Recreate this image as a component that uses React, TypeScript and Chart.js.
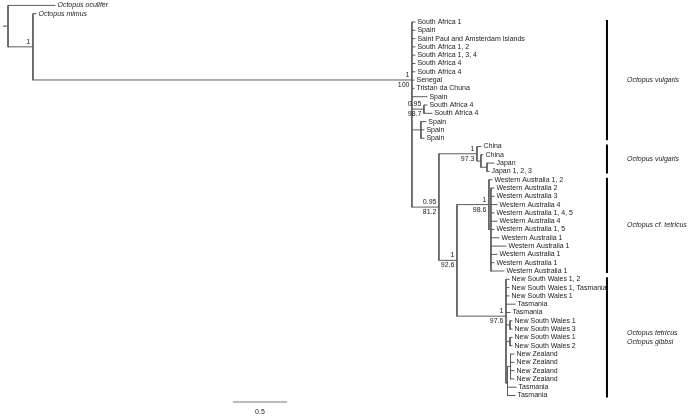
import React, { useEffect, useRef } from 'react';
import { Chart, registerables } from 'chart.js';

Chart.register(...registerables);

// ---------- data ----------
const tipLabels = [
  'Octopus oculifer', 'Octopus mimus',
  'South Africa 1', 'Spain', 'Saint Paul and Amsterdam Islands', 'South Africa 1, 2', 'South Africa 1, 3, 4',
  'South Africa 4', 'South Africa 4', 'Senegal', 'Tristan da Chuna', 'Spain', 'South Africa 4', 'South Africa 4',
  'Spain', 'Spain', 'Spain',
  'China', 'China', 'Japan', 'Japan 1, 2, 3',
  'Western Australia 1, 2', 'Western Australia 2', 'Western Australia 3', 'Western Australia 4',
  'Western Australia 1, 4, 5', 'Western Australia 4', 'Western Australia 1, 5', 'Western Australia 1',
  'Western Australia 1', 'Western Australia 1', 'Western Australia 1', 'Western Australia 1',
  'New South Wales 1, 2', 'New South Wales 1, Tasmania', 'New South Wales 1', 'Tasmania', 'Tasmania',
  'New South Wales 1', 'New South Wales 3', 'New South Wales 1', 'New South Wales 2',
  'New Zealand', 'New Zealand', 'New Zealand', 'New Zealand', 'Tasmania', 'Tasmania',
];
const tipItalic = [true, true];
const tipParents = [
  'root', 'A',
  'B', 'B', 'B', 'B', 'B', 'B', 'B', 'B', 'B', 'B', 'Q', 'Q', 'R', 'R', 'R',
  'E', 'F', 'G', 'G',
  'X', 'S', 'S', 'S', 'S', 'S', 'S', 'S', 'S', 'S', 'S', 'S',
  'I', 'I', 'I', 'I', 'I', 'P1', 'P1', 'P2', 'P2',
  'N', 'N', 'N', 'N', 'Z', 'Z',
];
const tipLengths = [
  0.435, 0.028,
  0.028, 0.028, 0.028, 0.028, 0.028, 0.028, 0.028, 0.019, 0.019, 0.139, 0.028, 0.074, 0.046, 0.028, 0.028,
  0.037, 0.019, 0.065, 0.019,
  0.028, 0.028, 0.028, 0.056, 0.028, 0.056, 0.028, 0.074, 0.139, 0.056, 0.028, 0.12,
  0.028, 0.028, 0.028, 0.083, 0.037, 0.019, 0.019, 0.019, 0.019,
  0.032, 0.032, 0.032, 0.032, 0.079, 0.069,
];

const nodeIds = ['root', 'A', 'B', 'Q', 'R', 'C', 'E', 'F', 'G', 'D', 'X', 'S', 'I', 'P1', 'P2', 'Z', 'N'];
const nodeParents = [null, 'root', 'A', 'B', 'B', 'B', 'C', 'E', 'F', 'C', 'D', 'X', 'D', 'I', 'I', 'I', 'Z'];
const nodeLengths = [0, 0.231, 3.509, 0.111, 0.083, 0.25, 0.352, 0.037, 0.056, 0.167, 0.296, 0.019, 0.454, 0.037, 0.037, 0.014, 0.028];
const nodePosterior = ['', '1', '1', '0.95', '', '0.95', '1', '', '', '1', '1', '', '1', '', '', '', ''];
const nodeBootstrap = ['', '', '100', '98.7', '', '81.2', '97.3', '', '', '92.6', '98.6', '', '97.6', '', '', '', ''];
const rootStubLength = 0.046;

const cladeNames = [['Octopus vulgaris'], ['Octopus vulgaris'], ['Octopus cf. tetricus'], ['Octopus tetricus', 'Octopus gibbsi']];
const cladeFirstTip = [2, 17, 21, 33];
const cladeLastTip = [16, 20, 32, 47];

const scaleBarLength = 0.5;
const scaleBarLabel = '0.5';

// ---------- layout constants ----------
const X_MIN = -0.0741;
const X_MAX = 6.3056;
const Y_MIN = -0.651;
const Y_MAX = 49.59;
const CLADE_BAR_X = 5.546;
const SCALE_BAR_X = 2.083;
const SCALE_BAR_Y = 47.78;
const TREE_COLOR = '#5c5c5c';
const TEXT_COLOR = '#1a1a1a';
const FONT = '"Liberation Sans", Arial, Helvetica, sans-serif';

function layoutTree() {
  const nodeX: Record<string, number> = {};
  nodeIds.forEach((id, i) => {
    const p = nodeParents[i];
    nodeX[id] = p === null ? 0 : nodeX[p] + nodeLengths[i];
  });
  const tipX = tipLabels.map((_, i) => nodeX[tipParents[i]] + tipLengths[i]);
  const tipY = tipLabels.map((_, i) => i);
  const nodeY: Record<string, number> = {};
  const childYs: Record<string, number[]> = {};
  nodeIds.forEach((id) => (childYs[id] = []));
  tipLabels.forEach((_, i) => childYs[tipParents[i]].push(tipY[i]));
  for (let i = nodeIds.length - 1; i >= 0; i--) {
    const id = nodeIds[i];
    const ys = childYs[id];
    nodeY[id] = ys.reduce((a, b) => a + b, 0) / ys.length;
    const p = nodeParents[i];
    if (p !== null) childYs[p].push(nodeY[id]);
  }
  return { nodeX, nodeY, tipX, tipY, childYs };
}

export default function App() {
  const ref = useRef<HTMLCanvasElement>(null);

  useEffect(() => {
    const canvas = ref.current;
    if (!canvas) return;
    const { nodeX, nodeY, tipX, tipY, childYs } = layoutTree();

    const gap = { x: NaN, y: NaN };
    const branchPts: { x: number; y: number }[] = [];
    branchPts.push({ x: -rootStubLength, y: nodeY.root }, { x: 0, y: nodeY.root }, gap);
    nodeIds.forEach((id) => {
      const ys = childYs[id];
      branchPts.push({ x: nodeX[id], y: Math.min(...ys) }, { x: nodeX[id], y: Math.max(...ys) }, gap);
    });
    nodeIds.forEach((id, i) => {
      const p = nodeParents[i];
      if (p === null) return;
      branchPts.push({ x: nodeX[p], y: nodeY[id] }, { x: nodeX[id], y: nodeY[id] }, gap);
    });
    tipLabels.forEach((_, i) => {
      branchPts.push({ x: nodeX[tipParents[i]], y: tipY[i] }, { x: tipX[i], y: tipY[i] }, gap);
    });

    const barPts: { x: number; y: number }[] = [];
    cladeNames.forEach((_, c) => {
      barPts.push({ x: CLADE_BAR_X, y: cladeFirstTip[c] - 0.25 }, { x: CLADE_BAR_X, y: cladeLastTip[c] + 0.25 }, gap);
    });

    const scalePts = [
      { x: SCALE_BAR_X, y: SCALE_BAR_Y },
      { x: SCALE_BAR_X + scaleBarLength, y: SCALE_BAR_Y },
    ];

    const textPlugin = {
      id: 'treeText',
      afterDatasetsDraw(chart: any) {
        const ctx = chart.ctx as CanvasRenderingContext2D;
        const xs = chart.scales.x;
        const ys = chart.scales.y;
        ctx.save();
        ctx.fillStyle = TEXT_COLOR;
        ctx.textBaseline = 'middle';
        tipLabels.forEach((label, i) => {
          ctx.font = `${tipItalic[i] ? 'italic ' : ''}7px ${FONT}`;
          ctx.textAlign = 'left';
          ctx.fillText(label, xs.getPixelForValue(tipX[i]) + 2.5, ys.getPixelForValue(tipY[i]));
        });
        ctx.font = `7px ${FONT}`;
        ctx.textAlign = 'right';
        nodeIds.forEach((id, i) => {
          const px = xs.getPixelForValue(nodeX[id]) - 2.5;
          const py = ys.getPixelForValue(nodeY[id]);
          if (nodePosterior[i]) ctx.fillText(nodePosterior[i], px, py - 5);
          if (nodeBootstrap[i]) ctx.fillText(nodeBootstrap[i], px, py + 5);
        });
        ctx.font = `italic 7px ${FONT}`;
        ctx.textAlign = 'left';
        cladeNames.forEach((lines, c) => {
          const mid = ys.getPixelForValue((cladeFirstTip[c] + cladeLastTip[c]) / 2);
          const lx = xs.getPixelForValue(CLADE_BAR_X) + 20;
          lines.forEach((t, k) => {
            ctx.fillText(t, lx, mid + (k - (lines.length - 1) / 2) * 9);
          });
        });
        ctx.font = `7px ${FONT}`;
        ctx.textAlign = 'center';
        ctx.fillText(
          scaleBarLabel,
          xs.getPixelForValue(SCALE_BAR_X + scaleBarLength / 2),
          ys.getPixelForValue(SCALE_BAR_Y) + 10
        );
        ctx.restore();
      },
    };

    const chart = new Chart(canvas, {
      type: 'scatter',
      data: {
        datasets: [
          {
            data: branchPts,
            showLine: true,
            borderColor: TREE_COLOR,
            borderWidth: 1,
            pointRadius: 0,
            spanGaps: false,
            borderCapStyle: 'square',
          },
          {
            data: barPts,
            showLine: true,
            borderColor: '#000',
            borderWidth: 2,
            pointRadius: 0,
            spanGaps: false,
          },
          {
            data: scalePts,
            showLine: true,
            borderColor: '#777',
            borderWidth: 1.2,
            pointRadius: 0,
          },
        ],
      } as any,
      options: {
        responsive: false,
        animation: false,
        events: [],
        layout: { padding: 0 },
        plugins: { legend: { display: false }, tooltip: { enabled: false }, title: { display: false } },
        scales: {
          x: { type: 'linear', min: X_MIN, max: X_MAX, display: false },
          y: { type: 'linear', min: Y_MIN, max: Y_MAX, reverse: true, display: false },
        },
      },
      plugins: [textPlugin],
    } as any);
    return () => chart.destroy();
  }, []);

  return (
    <div style={{ position: 'fixed', left: 0, top: 0, width: 689, height: 417, background: '#fff' }}>
      <canvas ref={ref} width={689} height={417} style={{ width: 689, height: 417, display: 'block' }} />
    </div>
  );
}
